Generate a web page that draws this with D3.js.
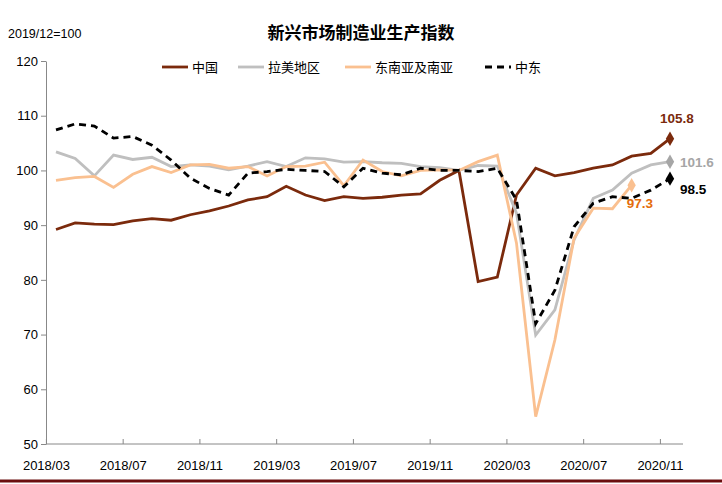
<!DOCTYPE html>
<html><head><meta charset="utf-8">
<script src="https://d3js.org/d3.v7.min.js"></script>
<style>body{margin:0;background:#fff}</style></head>
<body><svg id="c" width="722" height="484"></svg>
<script>
const months=[];for(let i=0;i<33;i++){const y=2018+Math.floor((2+i)/12),m=(2+i)%12+1;months.push(y+"/"+String(m).padStart(2,"0"));}
const tickLabels=["2018/03","2018/07","2018/11","2019/03","2019/07","2019/11","2020/03","2020/07","2020/11"];
const yTicks=[50,60,70,80,90,100,110,120];
const china=[89.2,90.4,90.2,90.1,90.8,91.2,90.9,91.9,92.6,93.5,94.6,95.2,97.1,95.5,94.5,95.2,94.9,95.1,95.5,95.7,98.2,100,79.7,80.5,95.5,100.4,99.0,99.6,100.4,101.0,102.6,103.1,105.8];
const latam=[103.4,102.2,99.0,102.8,102.0,102.4,100.7,101.0,100.8,100.1,100.8,101.6,100.7,102.3,102.1,101.5,101.6,101.4,101.3,100.7,100.5,100,100.9,100.8,92.2,69.9,74.5,87.3,94.9,96.4,99.5,101.0,101.6];
const seasia=[98.2,98.7,98.9,96.9,99.3,100.7,99.6,101.0,101.1,100.4,100.7,99.0,100.7,100.8,101.5,97.2,101.9,99.8,99.0,100,100.1,100,101.6,102.8,86.7,55.0,69,87.6,93.1,93.0,97.3];
const mideast=[107.4,108.5,108.1,105.9,106.2,104.6,101.9,98.6,96.7,95.5,99.5,99.8,100.2,100.0,99.8,97.0,100.4,99.5,99.2,100.4,100,100,99.8,100.4,94.6,72,78.1,89.7,94,95.2,94.9,96.4,98.5];
const series=[
 {name:"中国",data:china,color:"#7b2a0c",dash:null,label:"105.8",lc:"#7b2a0c",dx:-10,dy:-16},
 {name:"拉美地区",data:latam,color:"#bfbfbf",dash:null,label:"101.6",lc:"#a6a6a6",dx:10,dy:5,mc:"#a6a6a6"},
 {name:"东南亚及南亚",data:seasia,color:"#fac090",dash:null,label:"97.3",lc:"#e46c0a",dx:-5,dy:23},
 {name:"中东",data:mideast,color:"#000",dash:"7,5",label:"98.5",lc:"#000",dx:10,dy:15}];
const svg=d3.select("#c");
const x=d3.scaleLinear().domain([0,32]).range([56,670]);
const y=d3.scaleLinear().domain([50,120]).range([444,61]);
const half=(x(1)-x(0))/2;
svg.append("text").attr("x",361).attr("y",39).attr("text-anchor","middle").attr("font-family","Noto Sans CJK SC").attr("font-weight","bold").attr("font-size",17).text("新兴市场制造业生产指数");
svg.append("text").attr("x",8).attr("y",38).attr("font-family","Liberation Sans").attr("font-size",12.5).text("2019/12=100");
const ya=svg.append("g").attr("transform","translate(46,0)").call(d3.axisLeft(y).tickValues(yTicks).tickSize(5).tickSizeOuter(0));
ya.selectAll("text").attr("font-family","Liberation Sans").attr("font-size",13).attr("fill","#000");
ya.select(".domain").attr("stroke","#888");ya.selectAll("line").attr("stroke","#888");
const xg=svg.append("g").attr("transform","translate(0,444)");
xg.append("line").attr("x1",46).attr("x2",683).attr("stroke","#888");
tickLabels.forEach(t=>{const i=months.indexOf(t);const px=x(i)-half;
 xg.append("line").attr("x1",px).attr("x2",px).attr("y1",0).attr("y2",-5).attr("stroke","#888");
 xg.append("text").attr("x",px).attr("y",26).attr("text-anchor","middle").attr("font-family","Liberation Sans Narrow, Liberation Sans").attr("font-size",13).text(t);});
const line=d3.line().x((d,i)=>x(i)).y(d=>y(d));
series.forEach(s=>{
 svg.append("path").attr("d",line(s.data)).attr("fill","none").attr("stroke",s.color).attr("stroke-width",2.8).attr("stroke-dasharray",s.dash);
 const li=s.data.length-1;
 svg.append("path").attr("d",d3.symbol(d3.symbolDiamond,60)()).attr("transform",`translate(${x(li)},${y(s.data[li])})`).attr("fill",s.mc||s.color);
 svg.append("text").attr("x",x(li)+s.dx).attr("y",y(s.data[li])+s.dy).attr("font-family","Liberation Sans").attr("font-weight","bold").attr("font-size",13.5).attr("fill",s.lc).text(s.label);
});
const lx=[162,238,345,485];
series.forEach((s,k)=>{
 svg.append("line").attr("x1",lx[k]).attr("x2",lx[k]+26).attr("y1",67).attr("y2",67).attr("stroke",s.color).attr("stroke-width",2.8).attr("stroke-dasharray",s.dash);
 svg.append("text").attr("x",lx[k]+30).attr("y",72).attr("font-family","Noto Sans CJK SC").attr("font-size",13).text(s.name);
});
svg.append("line").attr("x1",0).attr("x2",722).attr("y1",481).attr("y2",481).attr("stroke","#6b0f0f").attr("stroke-width",3);
</script></body></html>
